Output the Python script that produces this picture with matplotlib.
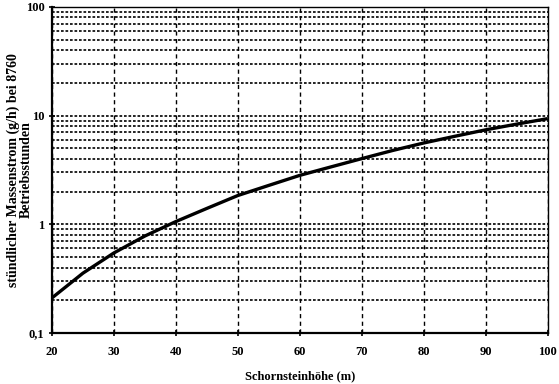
import matplotlib
matplotlib.use("Agg")
import matplotlib.pyplot as plt
from matplotlib.ticker import FixedLocator, FixedFormatter, LogLocator, NullFormatter

height_m = [20, 25, 30, 35, 40, 45, 50, 55, 60, 65, 70, 75, 80, 85, 90, 95, 100]
mass_flow = [0.21, 0.355, 0.545, 0.78, 1.06, 1.4, 1.84, 2.28, 2.82, 3.37, 4.02, 4.78, 5.6, 6.45, 7.4, 8.35, 9.38]

x_ticks = [20, 30, 40, 50, 60, 70, 80, 90, 100]
y_ticks = [0.1, 1, 10, 100]
y_tick_labels = ["0,1", "1", "10", "100"]

plt.rcParams['font.family'] = ['Liberation Serif', 'DejaVu Serif']
plt.rcParams['font.weight'] = 'bold'

fig = plt.figure(figsize=(5.59, 3.84), dpi=100)
ax = fig.add_axes([0.093, 0.133, 0.887, 0.849])

ax.set_yscale('log')
ax.set_xlim(20, 100)
ax.set_ylim(0.1, 100)

ax.yaxis.set_major_locator(FixedLocator(y_ticks))
ax.yaxis.set_major_formatter(FixedFormatter(y_tick_labels))
ax.yaxis.set_minor_locator(LogLocator(base=10, subs=range(2, 10)))
ax.yaxis.set_minor_formatter(NullFormatter())
ax.set_xticks(x_ticks)
ax.set_xticklabels([str(v) for v in x_ticks])

ax.grid(True, axis='y', which='both', linestyle=(0, (1.6, 1.1)), color='black', linewidth=1.2)
ax.grid(True, axis='x', which='major', linestyle=(0, (3, 2.5)), color='black', linewidth=1.0)
ax.set_axisbelow(True)

ax.plot(height_m, mass_flow, color='black', linewidth=2.4, solid_capstyle='butt')

ax.tick_params(axis='both', which='major', direction='inout', length=5, width=1.2, labelsize=9)
ax.tick_params(axis='y', pad=3)
ax.tick_params(axis='x', pad=7)
ax.tick_params(axis='y', which='minor', length=0)
for lab in ax.get_xticklabels() + ax.get_yticklabels():
    lab.set_fontweight('bold')

ax.spines['left'].set_linewidth(1.6)
ax.spines['bottom'].set_linewidth(1.6)
ax.spines['top'].set_linewidth(1.0)
ax.spines['right'].set_linewidth(1.0)

ax.set_xlabel('Schornsteinhöhe (m)', fontsize=9, fontweight='bold', labelpad=9)
fig.text(19.5 / 559, 1 - 170 / 384, 'stündlicher Massenstrom (g/h) bei 8760\nBetriebsstunden',
         rotation=90, ha='center', va='center', multialignment='center',
         fontsize=10, fontweight='bold', linespacing=0.95)

fig.savefig('out.png', dpi=100)
